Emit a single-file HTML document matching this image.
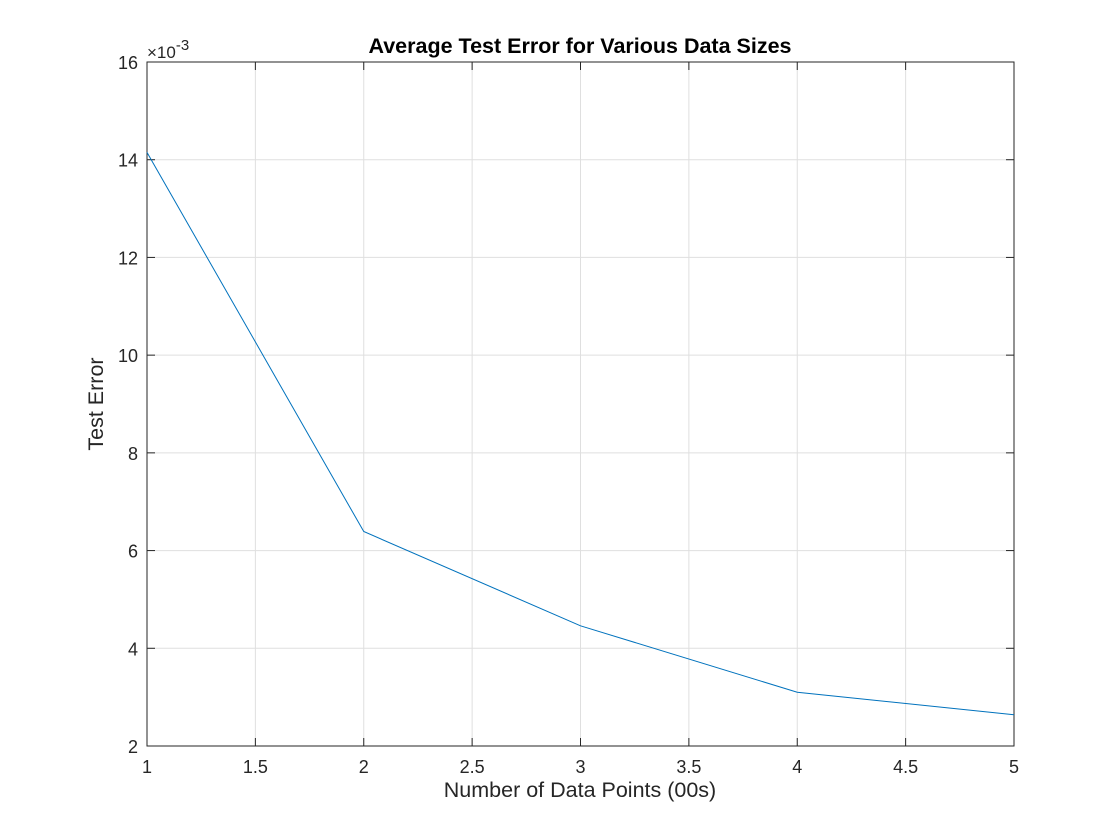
<!DOCTYPE html>
<html><head><meta charset="utf-8"><style>
body{margin:0;background:#fff;}
svg{display:block;font-family:"Liberation Sans",sans-serif;}
</style></head><body>
<svg id="chart" width="1120" height="840" viewBox="0 0 1120 840">
<rect width="1120" height="840" fill="#fff"/>
<g id="grid"></g>
<g id="ticks"></g>
<rect x="147" y="62" width="867" height="684" fill="none" stroke="#262626" stroke-width="1"/>
<g id="series"></g>
<text x="580" y="53" text-anchor="middle" font-size="21.5" font-weight="bold" fill="#000">Average Test Error for Various Data Sizes</text>
<text x="580" y="797" text-anchor="middle" font-size="21.5" fill="#262626">Number of Data Points (00s)</text>
<text transform="translate(103,404) rotate(-90)" text-anchor="middle" font-size="21.5" fill="#262626">Test Error</text>
<text x="147" y="58" font-size="17" fill="#262626">×10<tspan dy="-8" font-size="15">-3</tspan></text>
</svg>
<script>
const xValues=[1,2,3,4,5];
const yValues=[14.15,6.39,4.46,3.10,2.64];
const xTicks=[1,1.5,2,2.5,3,3.5,4,4.5,5];
const yTicks=[2,4,6,8,10,12,14,16];
const L=147,R=1014,T=62,B=746;
const xs=v=>L+(v-1)/4*(R-L);
const ys=v=>B-(v-2)/14*(B-T);
const NS="http://www.w3.org/2000/svg";
const grid=document.getElementById('grid'),ticks=document.getElementById('ticks'),series=document.getElementById('series');
function mk(t,a,p){const e=document.createElementNS(NS,t);for(const k in a)e.setAttribute(k,a[k]);p.appendChild(e);return e;}
xTicks.forEach(v=>{const x=xs(v);
 const g=mk('line',{x1:x,x2:x,y1:T,y2:B,stroke:'#dfdfdf','stroke-width':1},grid);
 
 
 mk('line',{x1:x,x2:x,y1:B,y2:B-8,stroke:'#262626'},ticks);
 mk('line',{x1:x,x2:x,y1:T,y2:T+8,stroke:'#262626'},ticks);
 const t=mk('text',{x:x,y:B+27,'text-anchor':'middle','font-size':18,fill:'#262626'},ticks);
 t.textContent=String(v);
 
 
});
yTicks.forEach(v=>{const y=ys(v);
 const g=mk('line',{x1:L,x2:R,y1:y,y2:y,stroke:'#dfdfdf','stroke-width':1},grid);
 
 
 mk('line',{x1:L,x2:L+8,y1:y,y2:y,stroke:'#262626'},ticks);
 mk('line',{x1:R,x2:R-8,y1:y,y2:y,stroke:'#262626'},ticks);
 const t=mk('text',{x:L-9,y:y+7,'text-anchor':'end','font-size':18,fill:'#262626'},ticks);
 t.textContent=String(v);
 
 
});
const pts=xValues.map((x,i)=>xs(x)+','+ys(yValues[i])).join(' ');
const pl=mk('polyline',{points:pts,fill:'none',stroke:'#0072bd','stroke-width':1},series);


</script>
</body></html>
